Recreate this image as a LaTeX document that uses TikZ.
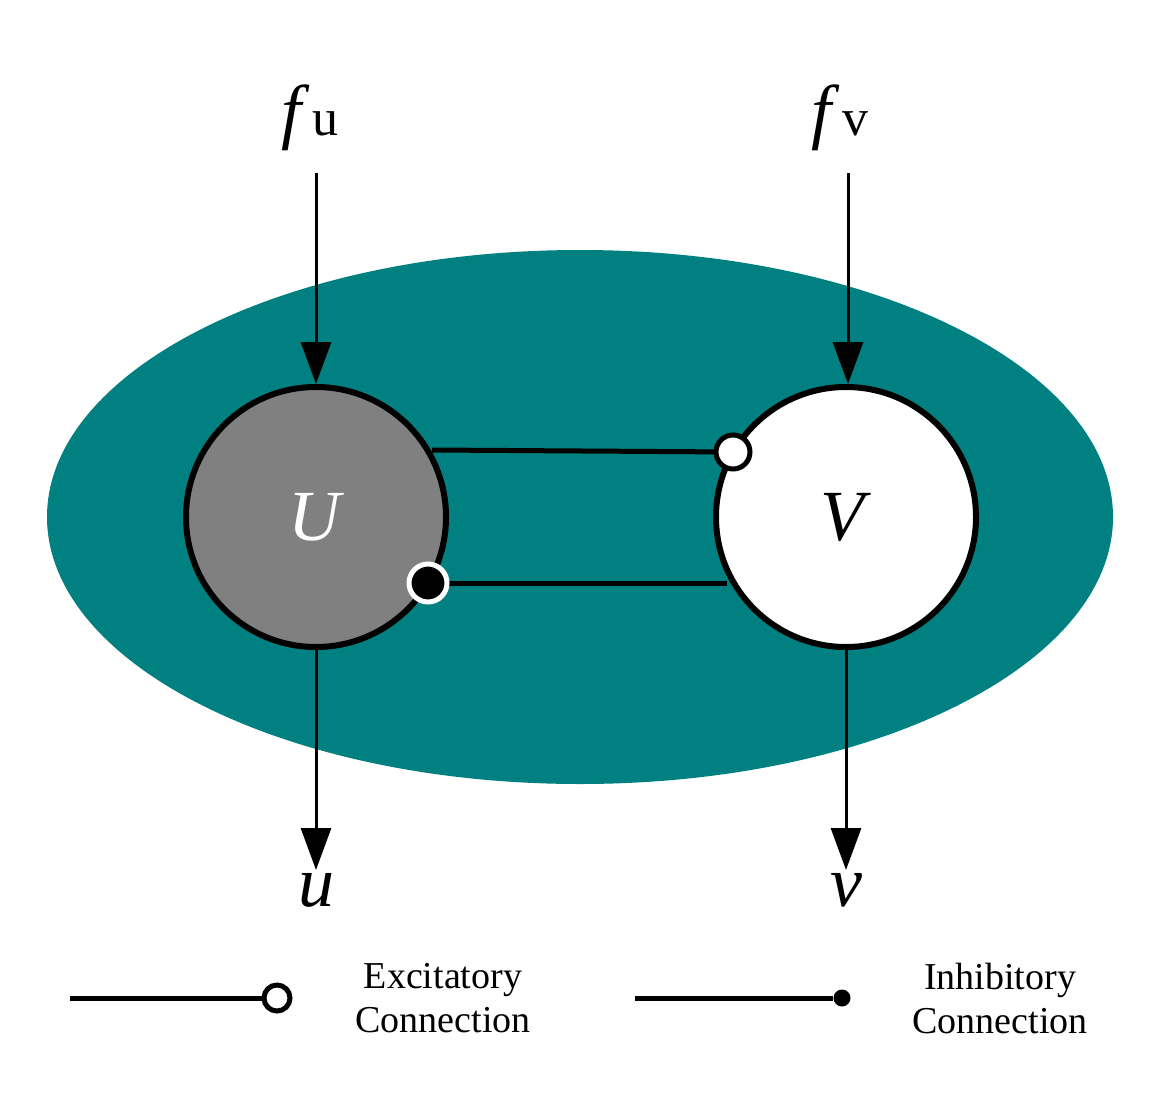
\documentclass[tikz,border=0pt]{standalone}
\usepackage{fontspec}
\setmainfont{Liberation Serif}
\usetikzlibrary{arrows.meta}
\definecolor{teal1}{RGB}{0,128,128}
\begin{document}
\begin{tikzpicture}[x=1pt,y=-1pt,
  neuron/.style={circle,draw=black,line width=6pt,minimum size=260pt,inner sep=0pt},
  big/.style={font=\fontsize{72}{80}\selectfont},
  arr/.style={line width=3pt,-{Triangle[length=42pt,width=30pt]}},
  conn/.style={line width=5pt},
  leg/.style={font=\fontsize{38}{44}\selectfont,align=center}]
\useasboundingbox (0,0) rectangle (1158,1099);
\fill[teal1] (580,517) ellipse [x radius=533pt, y radius=267pt];
\node[neuron,fill=gray] (U) at (316,517) {};
\node[neuron,fill=white] (V) at (846,517) {};
\node[big,text=white] at (U) {\textit{U}};
\node[big] at (V) {\textit{V}};
\node[big] (fu) at (310,118) {\textit{f}\kern2pt{\fontsize{52}{60}\selectfont u}};
\node[big] (fv) at (840,118) {\textit{f}\kern2pt{\fontsize{52}{60}\selectfont v}};
\node[big] (u) at (316,890) {\textit{u}};
\node[big] (v) at (846,890) {\textit{v}};
\coordinate (fua) at (316,173); \coordinate (fva) at (848,173);
\coordinate (ua) at (316,870); \coordinate (va) at (846,870);
\draw[arr] (fua) -- (U.north);
\draw[arr] (fva) -- (848,384);
\draw[arr] (U.south) -- (ua);
\draw[arr] (V.south) -- (va);
\coordinate (e1) at (733,452); \coordinate (i1) at (428,583);
\draw[conn] (U.30) ++(0,0) coordinate (us) (432,450) -- (e1);
\draw[conn] (i1) -- (727,583);
\node[circle,draw=black,fill=white,line width=5pt,minimum size=34pt,inner sep=0pt] at (e1) {};
\node[circle,draw=white,fill=black,line width=5pt,minimum size=38pt,inner sep=0pt] at (i1) {};
% legend
\coordinate (l1) at (70,998); \coordinate (l2) at (635,998);
\node[circle,draw=black,fill=white,line width=5pt,minimum size=26pt,inner sep=0pt] (eo) at (277,998) {};
\node[circle,fill=black,minimum size=17pt,inner sep=0pt] (io) at (842,998) {};
\draw[conn] (l1) -- (eo.west);
\draw[conn] (l2) -- (io.west);
\node[leg] at (443,998) {Excitatory\\Connection};
\node[leg] at (1000,998) {Inhibitory\\Connection};
\end{tikzpicture}
\end{document}
